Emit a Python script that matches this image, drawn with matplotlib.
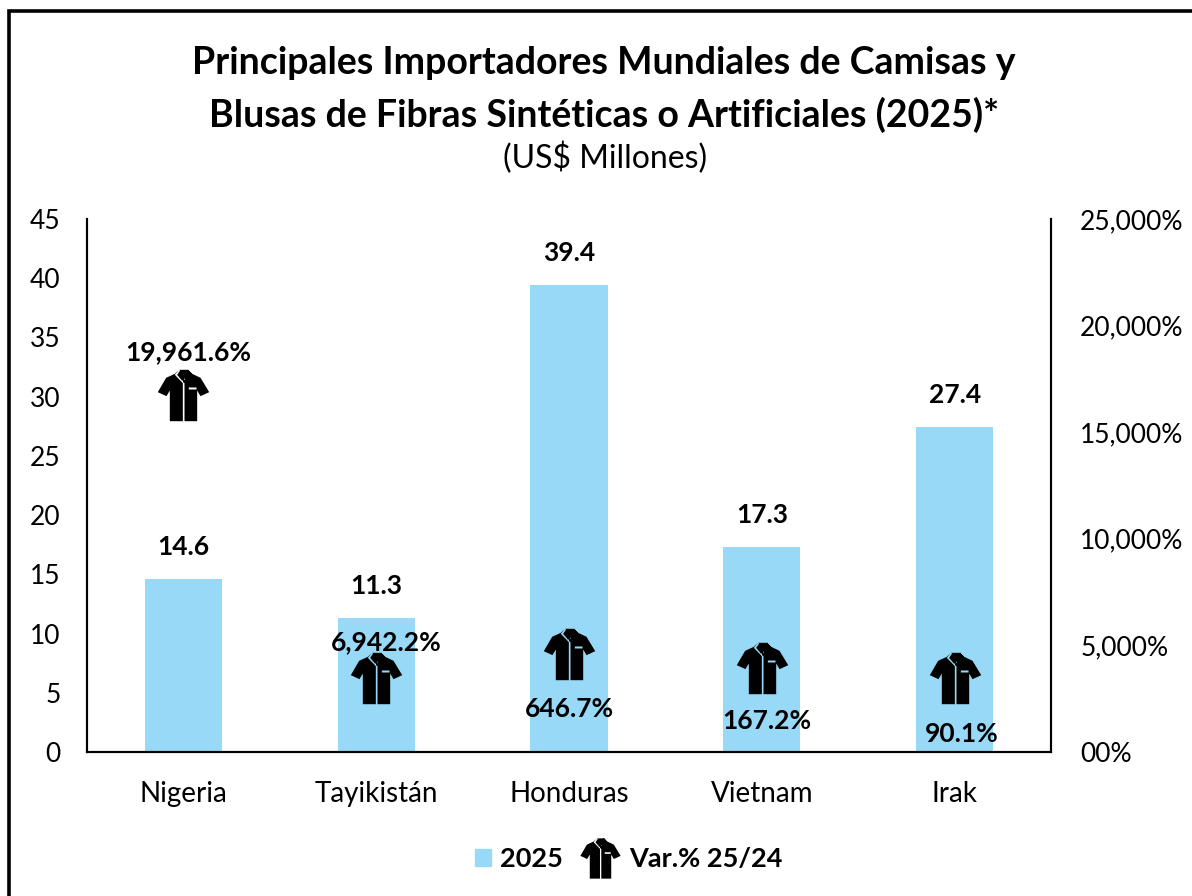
import numpy as np
import matplotlib
matplotlib.use('Agg')
import matplotlib.pyplot as plt
from matplotlib.path import Path
from matplotlib.patches import Patch, Rectangle
from matplotlib.lines import Line2D

paises = ['Nigeria', 'Tayikistán', 'Honduras', 'Vietnam', 'Irak']
valores_2025 = [14.6, 11.3, 39.4, 17.3, 27.4]
var_labels = ['19,961.6%', '6,942.2%', '646.7%', '167.2%', '90.1%']
# altura a la que aparece cada camisa en el eje derecho
var_altura = [16750, 3470, 4600, 3940, 3470]
left_ticks = [0, 5, 10, 15, 20, 25, 30, 35, 40, 45]
right_ticks = [0, 5000, 10000, 15000, 20000, 25000]
right_labels = ['00%', '5,000%', '10,000%', '15,000%', '20,000%', '25,000%']

plt.rcParams['font.family'] = ['Lato', 'DejaVu Sans']


def poly(pts, hole=False):
    pts = [(x - 164, 165 - y) for x, y in pts]
    # los huecos van en sentido contrario al contorno
    if hole:
        pts = pts[::-1]
    return Path(pts + [pts[0]], [Path.MOVETO] + [Path.LINETO] * (len(pts) - 1) + [Path.CLOSEPOLY])


contorno = [(150, 88), (178, 88), (190, 100), (215, 112), (241, 155), (215, 167),
            (205, 150), (205, 242), (123, 242), (123, 150), (113, 167), (87, 155), (112, 112), (138, 100)]
huecos = [
    [(162, 126), (167, 126), (167, 242), (162, 242)],
    [(180, 141), (203, 141), (203, 147), (180, 147)],
    [(138, 103), (150, 88), (154, 90), (145, 103), (160, 121), (165, 113), (168, 116), (162, 128)],
    [(190, 103), (178, 88), (174, 90), (183, 103), (168, 121), (163, 113), (160, 116), (166, 128)],
]
camisa = Path.make_compound_path(poly(contorno), *[poly(h, True) for h in huecos])

fig = plt.figure(figsize=(11.92, 8.96), dpi=100)
W, H = 1192, 896
ax = fig.add_axes([87 / W, 1 - 752 / H, (1051 - 87) / W, (752 - 219) / H])
ax2 = ax.twinx()

x = np.arange(len(paises))
bars = ax.bar(x, valores_2025, width=0.4, color='#97D9F7')
for xi, v in zip(x, valores_2025):
    ax.annotate(f'{v:.1f}', (xi, v), xytext=(0, 14.5), textcoords='offset points',
                ha='center', va='bottom', fontsize=19, fontweight='bold', color='black')

ax2.plot(x, var_altura, linestyle='none', marker=camisa, markersize=37,
         color='black', markeredgewidth=0)
offsets = [(3.5, 31), (7.5, 25.5), (0, -39.5), (3.5, -38), (5, -40)]
for xi, a, lab, off in zip(x, var_altura, var_labels, offsets):
    ax2.annotate(lab, (xi, a), xytext=off, textcoords='offset points', ha='center',
                 va='center', fontsize=19, fontweight='bold', color='black')

ax.set_xlim(-0.5, 4.5)
ax.set_ylim(0, 45)
ax2.set_ylim(0, 25000)
ax.set_xticks(x)
ax.set_xticklabels(paises)
ax.set_yticks(left_ticks)
ax2.set_yticks(right_ticks)
ax2.set_yticklabels(right_labels)
ax.tick_params(axis='x', length=0, labelsize=20, pad=21)
ax.tick_params(axis='y', length=0, labelsize=19, pad=19)
ax2.tick_params(axis='y', length=0, labelsize=19, pad=21)
for a in (ax, ax2):
    a.spines['top'].set_visible(False)
    for s in ('left', 'right', 'bottom'):
        a.spines[s].set_linewidth(1.5)

fig.text(604 / W, 1 - 63 / H, 'Principales Importadores Mundiales de Camisas y', ha='center', va='center',
         fontsize=27, fontweight='bold')
fig.text(604 / W, 1 - 115 / H, 'Blusas de Fibras Sintéticas o Artificiales (2025)*', ha='center', va='center',
         fontsize=27, fontweight='bold')
fig.text(605 / W, 1 - 158 / H, '(US$ Millones)', ha='center', va='center', fontsize=23)

# dos leyendas separadas: el cuadro es angosto y la camisa necesita mas ancho
fig.legend(handles=[Patch(color='#97D9F7', label='2025')], loc='center left',
           bbox_to_anchor=(475 / W, 1 - 859 / H), frameon=False, prop={'size': 19.5, 'weight': 'bold'},
           handlelength=0.6, handleheight=0.6, handletextpad=0.33, borderpad=0, borderaxespad=0)
fig.legend(handles=[Line2D([], [], linestyle='none', marker=camisa, markersize=29, color='black',
                           markeredgewidth=0, label='Var.% 25/24')], loc='center left',
           bbox_to_anchor=(580 / W, 1 - 859 / H), frameon=False, prop={'size': 19.5, 'weight': 'bold'},
           handlelength=1.5, handletextpad=0.3, borderpad=0, borderaxespad=0)

# marco del grafico, cortado por el borde derecho e inferior
fig.add_artist(Rectangle((8.5 / W, -0.05), 1.1, 1 - 11.5 / H + 0.05, transform=fig.transFigure,
                         fill=False, edgecolor='black', linewidth=2.6))

fig.savefig('out.png', dpi=100)
